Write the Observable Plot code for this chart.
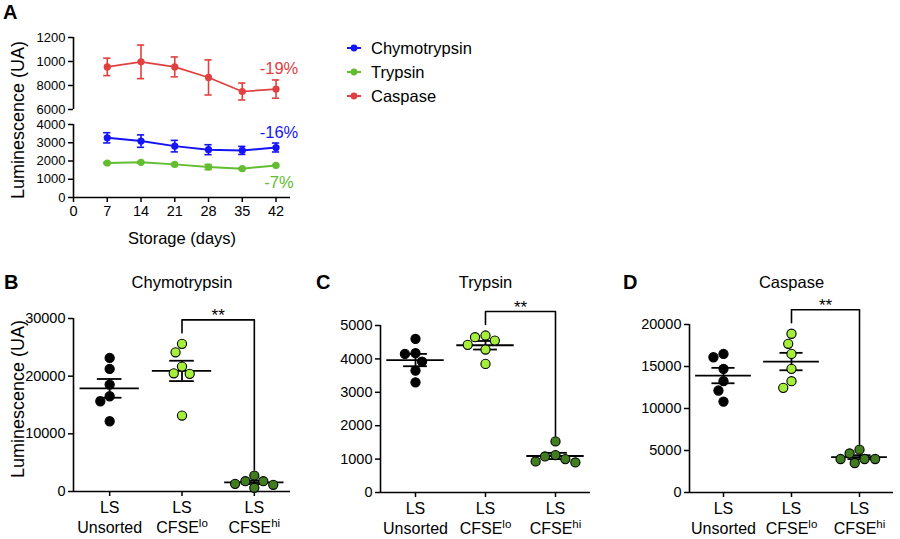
<!DOCTYPE html>
<html><head><meta charset="utf-8">
<script src="https://cdn.jsdelivr.net/npm/d3@7"></script>
<script src="https://cdn.jsdelivr.net/npm/@observablehq/plot@0.6"></script>
<style>
body{margin:0;background:#fff;font-family:"Liberation Sans",Arial,sans-serif;color:#000;}
#root{position:relative;width:900px;height:539px;overflow:hidden;background:#fff;}
.letter{position:absolute;font-weight:bold;font-size:20px;line-height:24px;}
.leg{position:absolute;font-size:16.5px;line-height:20px;display:flex;align-items:center;}
.leg svg{margin-right:9px;}
</style></head><body><div id="root"></div>
<script>
// ---------- Panel A data ----------
const days = [7, 14, 21, 28, 35, 42];
const seriesNames = ["Chymotrypsin", "Trypsin", "Caspase"];
const chymoMean = [3270, 3090, 2815, 2620, 2580, 2740];
const chymoSem  = [280, 340, 315, 272, 220, 245];
const trypMean  = [1890, 1925, 1815, 1670, 1580, 1760];
const trypSem   = [50, 45, 45, 140, 45, 45];
const caspMean  = [9550, 9970, 9550, 8670, 7500, 7700];
const caspSem   = [725, 1400, 830, 1460, 705, 760];
const changeLabels = ["-16%", "-7%", "-19%"];
const upperTicks = [6000, 8000, 10000, 12000];
const upperTickLabels = ["6000", "8000", "1000", "1200"];
const lowerTicks = [0, 1000, 2000, 3000, 4000];
const dayTicks = [0, 7, 14, 21, 28, 35, 42];

// ---------- Panels B-D data ----------
const groups = ["LS\nUnsorted", "LS\nCFSE^lo", "LS\nCFSE^hi"];
const chymoUnsorted = [23170, 21260, 18540, 16520, 15650, 12180];
const chymoLo       = [25600, 24140, 21660, 20500, 20400, 13170];
const chymoHi       = [2770, 1790, 1790, 1330, 1160, 640];
const trypUnsorted  = [4600, 4170, 4150, 3920, 3650, 3300];
const trypLo        = [4700, 4650, 4550, 4420, 4280, 3850];
const trypHi        = [1530, 1120, 1080, 1000, 930, 900];
const caspUnsorted  = [16500, 16100, 14720, 13250, 12140, 10820];
const caspLo        = [18900, 17700, 16500, 14720, 13250, 12460];
const caspHi        = [5100, 4650, 3990, 3990, 3990, 3510];
const chymoTicks = [0, 10000, 20000, 30000];
const trypTicks  = [0, 1000, 2000, 3000, 4000, 5000];
const caspTicks  = [0, 5000, 10000, 15000, 20000];
const sigLabel = "**";

// ---------- styles ----------
const FONT = "'Liberation Sans', Arial, Helvetica, sans-serif";
const seriesColors = {Chymotrypsin: "#1414f5", Trypsin: "#62bd30", Caspase: "#e0403f"};
const groupFill = ["#000000", "#a6ee3c", "#3f7d1e"];

const root = document.getElementById("root");
function place(node, left, top) {
  node.style.position = "absolute";
  node.style.left = left + "px";
  node.style.top = top + "px";
  root.appendChild(node);
  return node;
}
function letter(txt, left, top) {
  const d = document.createElement("div");
  d.className = "letter"; d.textContent = txt;
  d.style.left = left + "px"; d.style.top = top + "px";
  root.appendChild(d);
}
const svgStyle = {fontFamily: FONT, fontSize: "14px", background: "transparent", overflow: "visible", color: "#000"};

function series(name, means, sems) {
  return days.map((day, i) => ({name, day, mean: means[i], sem: sems[i]}));
}
const chymo = series("Chymotrypsin", chymoMean, chymoSem);
const tryp = series("Trypsin", trypMean, trypSem);
const casp = series("Caspase", caspMean, caspSem);

function seriesMarks(data, color, lineW, label, labelDy) {
  const last = data[data.length - 1];
  return [
    Plot.ruleX(data, {x: "day", y1: d => d.mean - d.sem, y2: d => d.mean + d.sem, stroke: color, strokeWidth: 1.6}),
    Plot.ruleY(data, {y: d => d.mean + d.sem, x1: d => d.day - 0.75, x2: d => d.day + 0.75, stroke: color, strokeWidth: 1.6}),
    Plot.ruleY(data, {y: d => d.mean - d.sem, x1: d => d.day - 0.75, x2: d => d.day + 0.75, stroke: color, strokeWidth: 1.6}),
    Plot.line(data, {x: "day", y: "mean", stroke: color, strokeWidth: lineW}),
    Plot.dot(data, {x: "day", y: "mean", r: 3.6, fill: color}),
    Plot.text([label], {x: () => last.day, y: () => last.mean, dy: labelDy, dx: 3, fill: color, fontSize: 16.5, textAnchor: "middle"})
  ];
}

// ---------- Panel A: upper segment ----------
const upperMap = new Map(upperTicks.map((t, i) => [t, upperTickLabels[i]]));
const upper = Plot.plot({
  width: 330, height: 90, marginTop: 9, marginBottom: 9, marginLeft: 73, marginRight: 40,
  style: svgStyle,
  x: {domain: [0, 45], axis: null},
  y: {domain: [6000, 12000]},
  marks: [
    Plot.ruleX([0], {stroke: "#000", strokeWidth: 1.6}),
    Plot.axisY({ticks: upperTicks, tickFormat: d => upperMap.get(d), tickSize: 5, tickPadding: 3, fontSize: 13, strokeWidth: 1.5, label: null}),
    ...seriesMarks(casp, seriesColors.Caspase, 1.7, changeLabels[2], -20)
  ]
});
place(upper, 0, 28);

// ---------- Panel A: lower segment ----------
const lower = Plot.plot({
  width: 330, height: 140, marginTop: 9, marginBottom: 58, marginLeft: 73, marginRight: 40,
  style: svgStyle,
  x: {domain: [0, 45]},
  y: {domain: [0, 4000]},
  marks: [
    Plot.ruleX([0], {stroke: "#000", strokeWidth: 1.6}),
    Plot.ruleY([0], {stroke: "#000", strokeWidth: 1.6}),
    Plot.axisY({ticks: lowerTicks, tickSize: 5, tickPadding: 3, fontSize: 13, strokeWidth: 1.5, tickFormat: d => String(d), label: null}),
    Plot.axisX({ticks: dayTicks, tickSize: 5, tickPadding: 3, fontSize: 14.5, strokeWidth: 1.5, tickFormat: d => String(d), label: null}),
    ...seriesMarks(tryp, seriesColors.Trypsin, 2, changeLabels[1], 17),
    ...seriesMarks(chymo, seriesColors.Chymotrypsin, 2, changeLabels[0], -15),
    Plot.text(["Storage (days)"], {frameAnchor: "bottom", dy: 41, fontSize: 16.5, lineAnchor: "middle"}),
    Plot.text(["Luminescence (UA)"], {frameAnchor: "left", rotate: -90, dx: -55, dy: -41, fontSize: 18, textAnchor: "middle", lineAnchor: "middle"})
  ]
});
place(lower, 0, 115);
letter("A", 3, 0);

// legend
seriesNames.forEach((name, i) => {
  const row = document.createElement("div");
  row.className = "leg";
  const s = d3.create("svg").attr("width", 16).attr("height", 10);
  s.append("line").attr("x1", 1).attr("x2", 15).attr("y1", 5).attr("y2", 5).attr("stroke", seriesColors[name]).attr("stroke-width", 2);
  s.append("circle").attr("cx", 8).attr("cy", 5).attr("r", 3.4).attr("fill", seriesColors[name]);
  row.appendChild(s.node());
  const t = document.createElement("span"); t.textContent = name; row.appendChild(t);
  place(row, 346, 38 + i * 24);
});

// ---------- Panels B-D ----------
function swarm(vals, py, d) {
  const placed = [];
  const order = d3.range(vals.length).sort((a, b) => vals[b] - vals[a]);
  const off = new Array(vals.length);
  for (const i of order) {
    const y = py(vals[i]);
    const cands = [0];
    for (const p of placed) {
      const dy = Math.abs(p.y - y);
      if (dy < d) { const dx = Math.sqrt(d * d - dy * dy); cands.push(p.x + dx, p.x - dx); }
    }
    cands.sort((a, b) => Math.abs(a) - Math.abs(b) || a - b);
    for (const c of cands) {
      if (placed.every(p => (p.x - c) ** 2 + (p.y - y) ** 2 >= d * d - 1e-6)) {
        off[i] = c; placed.push({x: c, y}); break;
      }
    }
  }
  return off;
}

function fixSup(svg) {
  d3.select(svg).selectAll("tspan").each(function () {
    const t = this.textContent;
    if (t.includes("^")) {
      const [base, sup] = t.split("^");
      this.textContent = base;
      d3.select(this).append("tspan").attr("dy", "-0.5em").attr("font-size", "0.72em").text(sup);
    }
  });
  d3.select(svg).selectAll("text").each(function () {
    if (!this.querySelector("tspan") && this.textContent.includes("^")) {
      const [base, sup] = this.textContent.split("^");
      this.textContent = base;
      d3.select(this).append("tspan").attr("dy", "-0.5em").attr("font-size", "0.72em").text(sup);
    }
  });
}

function dotPanel(cfg) {
  const {vals, ticks, max, left, width, mL, mR, mT, mB, title, ylabel} = cfg;
  const height = 279;
  const fh = height - mT - mB;
  const k = max / fh;
  const step = (width - mL - mR) / 3;
  const py = v => (max - v) / k;
  const dia = 10.6;
  const pts = [], stats = [];
  vals.forEach((arr, g) => {
    const off = swarm(arr, py, dia);
    arr.forEach((v, j) => pts.push({g, v, x: g + off[j] / step}));
    stats.push({g, m: d3.mean(arr), s: d3.deviation(arr) / Math.sqrt(arr.length)});
  });
  const allMax = d3.max(vals.flat());
  const top = allMax + 24 * k;
  const loEnd = d3.max(vals[1]) + 11 * k;
  const hiEnd = d3.max(vals[2]) + 5.5 * k;
  const bracket = [{x: 1, y: loEnd}, {x: 1, y: top}, {x: 2, y: top}, {x: 2, y: hiEnd}];
  const marks = [
    Plot.ruleX([-0.5], {stroke: "#000", strokeWidth: 1.6}),
    Plot.ruleY([0], {stroke: "#000", strokeWidth: 1.6}),
    Plot.axisY({ticks, tickSize: 5, tickPadding: 3, fontSize: 14.5, strokeWidth: 1.5, tickFormat: d => String(d), label: null}),
    Plot.axisX({ticks: [0, 1, 2], tickSize: 5, tickPadding: 3, fontSize: 16, lineHeight: 1.22, strokeWidth: 1.5, tickFormat: i => groups[i], label: null}),
    Plot.line(bracket, {x: "x", y: "y", stroke: "#000", strokeWidth: 1.6}),
    Plot.text([sigLabel], {x: 1.5, y: () => top, dy: -4, fontSize: 17, textAnchor: "middle"}),
    Plot.ruleY(stats, {y: "m", x1: d => d.g - 0.41, x2: d => d.g + 0.41, stroke: "#000", strokeWidth: 1.8}),
    Plot.ruleX(stats, {x: "g", y1: d => d.m - d.s, y2: d => d.m + d.s, stroke: "#000", strokeWidth: 1.8}),
    Plot.ruleY(stats, {y: d => d.m + d.s, x1: d => d.g - 0.17, x2: d => d.g + 0.17, stroke: "#000", strokeWidth: 1.8}),
    Plot.ruleY(stats, {y: d => d.m - d.s, x1: d => d.g - 0.17, x2: d => d.g + 0.17, stroke: "#000", strokeWidth: 1.8}),
    Plot.dot(pts, {x: "x", y: "v", r: 4.6, fill: d => groupFill[d.g], stroke: "#000", strokeWidth: 1.1}),
    Plot.text([title], {frameAnchor: "top", dy: 22 - mT, fontSize: 16.5, textAnchor: "middle", lineAnchor: "middle"})
  ];
  if (ylabel) marks.push(Plot.text([ylabel], {frameAnchor: "left", rotate: -90, dx: -55, dy: -6, fontSize: 18, textAnchor: "middle", lineAnchor: "middle"}));
  const chart = Plot.plot({
    width, height, marginTop: mT, marginBottom: mB, marginLeft: mL, marginRight: mR,
    style: svgStyle,
    x: {domain: [-0.5, 2.5]},
    y: {domain: [0, max]},
    marks
  });
  fixSup(chart);
  place(chart, left, 260);
}

dotPanel({vals: [chymoUnsorted, chymoLo, chymoHi], ticks: chymoTicks, max: 30000, left: 0, width: 300, mL: 73, mR: 10, mT: 58, mB: 48, title: "Chymotrypsin", ylabel: "Luminescence (UA)"});
dotPanel({vals: [trypUnsorted, trypLo, trypHi], ticks: trypTicks, max: 5000, left: 300, width: 300, mL: 80, mR: 10, mT: 65, mB: 47, title: "Trypsin"});
dotPanel({vals: [caspUnsorted, caspLo, caspHi], ticks: caspTicks, max: 20000, left: 600, width: 300, mL: 89, mR: 7, mT: 64, mB: 47, title: "Caspase"});
letter("B", 4, 270);
letter("C", 316, 270);
letter("D", 623, 270);
</script></body></html>
